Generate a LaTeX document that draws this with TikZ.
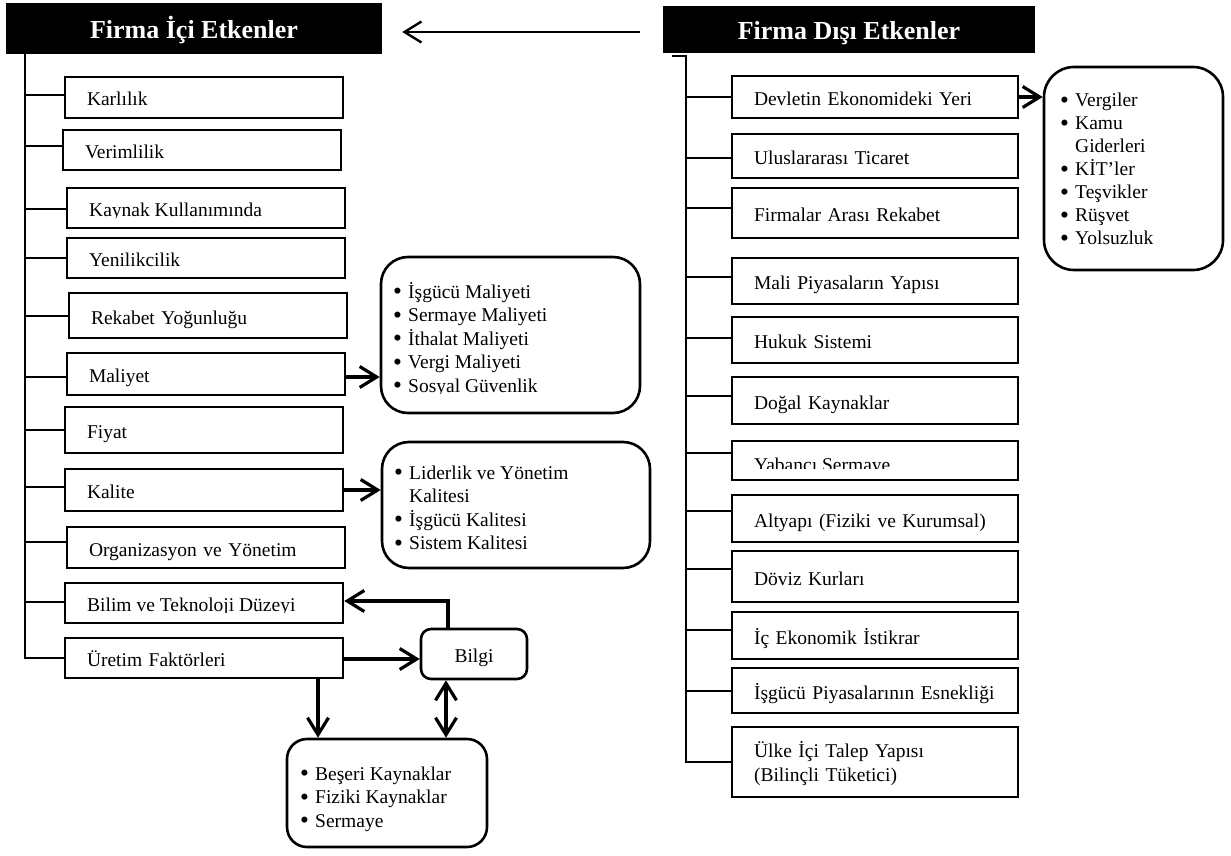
\documentclass[tikz,border=0pt]{standalone}
\usepackage{graphicx}
\usepackage{fontspec}
\setmainfont{Liberation Serif}
\usetikzlibrary{arrows.meta}

% bullet cell of the item lists
\newcommand\bul{\makebox[15pt][l]{\raisebox{-1.6pt}{\scalebox{1.3}{\textbullet}}}}
% connectors from a trunk line to a box, #2 = vertical shift
\newcommand\lconn[2]{\path ([yshift=#2]#1.west) coordinate (cc); \draw[conn] (cc) -- (cc -| ltrunk);}
\newcommand\rconn[2]{\path ([yshift=#2]#1.west) coordinate (cc); \draw[conn] (cc) -- (cc -| rtrunk);}

\begin{document}
\begin{tikzpicture}[x=1pt, y=-1pt,
  every node/.style={font=\fontsize{19.5}{23.5}\selectfont},
  header/.style={fill=black, text=white, inner sep=0pt, text height=21pt, text depth=0pt,
    font=\fontsize{26}{30}\selectfont\bfseries},
  item/.style={draw, line width=2.5pt, fill=white, inner xsep=22pt, inner ysep=0pt,
    align=left, text height=17.5pt, text depth=0.5pt},
  lbox/.style={item, text width=234pt},
  rbox/.style={item, text width=242pt},
  plain/.style={anchor=base west, inner sep=0pt},
  bubble/.style={draw, line width=2.6pt, fill=white, inner sep=0pt},
  list/.style={anchor=base west, inner sep=0pt},
  trunk/.style={line width=2pt},
  conn/.style={line width=2pt},
  arr/.style={line width=3.2pt, -{Straight Barb[length=17pt,width=21pt]}},
  dblarr/.style={line width=3.2pt, {Straight Barb[length=17pt,width=21pt]}-{Straight Barb[length=17pt,width=21pt]}},
  toparr/.style={line width=2.4pt, -{Straight Barb[length=17pt,width=21pt]}},
]
\fill[white] (0,0) rectangle (1231,856);
\useasboundingbox (0,0) rectangle (1231,856);

% headers
\node[header, minimum width=376pt, minimum height=51pt] (h1) at (194,28.5) {Firma İçi Etkenler};
\node[header, minimum width=372pt, minimum height=47pt] (h2) at (849,29.5) {Firma Dışı Etkenler};
\draw[toparr, shorten <=23pt, shorten >=20pt] ([yshift=-2.5pt]h2.west) -- ([yshift=-3.5pt]h1.east);

% left column
\node[lbox, minimum height=41pt] (karl) at (204,97.5) {Karlılık};
\node[lbox, minimum height=40pt] (verim) at (202,150) {Verimlilik};
\node[lbox, minimum height=40pt] (kaynak) at (206,208) {};
\begin{scope}
  \clip (60,190) rectangle (340,217.5);
  \node[plain] at (89,216.5) {Kaynak Kullanımında};
\end{scope}
\node[lbox, minimum height=40pt] (yenilik) at (206,258) {Yenilikcilik};
\node[lbox, minimum height=45pt] (rekabet) at (208,315.5) {Rekabet Yoğunluğu};
\node[lbox, minimum height=42pt] (maliyet) at (206,374) {Maliyet};
\node[lbox, minimum height=46pt] (fiyat) at (204,430) {Fiyat};
\node[lbox, minimum height=42pt] (kalite) at (204,490) {Kalite};
\node[lbox, minimum height=41pt] (org) at (206,547.5) {Organizasyon ve Yönetim};
\node[lbox, minimum height=40pt] (bilim) at (204,603) {};
\begin{scope}
  \clip (60,585) rectangle (340,612.5);
  \node[plain] at (87,611.5) {Bilim ve Teknoloji Düzeyi};
\end{scope}
\node[lbox, minimum height=40pt] (uretim) at (204,658) {Üretim Faktörleri};

\coordinate (ltrunk) at ([xshift=19pt]h1.south west);
\draw[trunk] (ltrunk) |- (uretim.west);
\lconn{karl}{2.5pt}
\lconn{verim}{4pt}
\lconn{kaynak}{-1pt}
\lconn{yenilik}{0pt}
\lconn{rekabet}{-0.5pt}
\lconn{maliyet}{-3pt}
\lconn{fiyat}{0pt}
\lconn{kalite}{3pt}
\lconn{org}{5.5pt}
\lconn{bilim}{1pt}

% cost items
\node[bubble, rounded corners=27pt, minimum width=259pt, minimum height=156pt] (mlist) at (510.5,335) {};
\begin{scope}
  \clip (385,260) rectangle (636,393.5);
  \node[list] at (393,298) {\begin{tabular}[t]{@{}l@{}l@{}}
    \bul & İşgücü Maliyeti\\
    \bul & Sermaye Maliyeti\\
    \bul & İthalat Maliyeti\\
    \bul & Vergi Maliyeti\\
    \bul & Sosyal Güvenlik
  \end{tabular}};
\end{scope}

% quality items
\node[bubble, rounded corners=27pt, minimum width=268pt, minimum height=126pt] (klist) at (516,505) {};
\node[list] at (394,479) {\begin{tabular}[t]{@{}l@{}l@{}}
  \bul & Liderlik ve Yönetim\\
       & Kalitesi\\
  \bul & İşgücü Kalitesi\\
  \bul & Sistem Kalitesi
\end{tabular}};

\coordinate (ma) at ([yshift=-3pt]maliyet.east);
\draw[arr] (ma) -- (ma -| mlist.west);
\draw[arr] (kalite.east) -- (kalite.east -| klist.west);

% knowledge and resources
\node[bubble, rounded corners=10pt, minimum width=106pt, minimum height=50pt,
  text height=17.5pt, text depth=0.5pt] (bilgi) at (474,654) {Bilgi};
\node[bubble, rounded corners=20pt, minimum width=200pt, minimum height=108pt] (flist) at (387,793) {};
\node[list] at (300,780) {\begin{tabular}[t]{@{}l@{}l@{}}
  \bul & Beşeri Kaynaklar\\
  \bul & Fiziki Kaynaklar\\
  \bul & Sermaye
\end{tabular}};

\coordinate (ub) at ([yshift=-1pt]uretim.east);
\draw[arr] (ub) -- (ub -| bilgi.west);
\draw[arr] ([xshift=-26pt]bilgi.north) |- ([yshift=2pt]bilim.east);
\coordinate (ud) at ([xshift=114pt]uretim.south);
\draw[arr] (ud) -- (ud |- flist.north);
\coordinate (bd) at ([xshift=-28pt]bilgi.south);
\draw[dblarr] (bd) -- (bd |- flist.north);

% right column
\node[rbox, minimum height=42pt] (devlet) at (875,97) {Devletin Ekonomideki Yeri};
\node[rbox, minimum height=44pt] (ulus) at (875,156) {Uluslararası Ticaret};
\node[rbox, minimum height=50pt] (firmalar) at (875,213) {Firmalar Arası Rekabet};
\node[rbox, minimum height=46pt] (mali) at (875,281) {Mali Piyasaların Yapısı};
\node[rbox, minimum height=46pt] (hukuk) at (875,340) {Hukuk Sistemi};
\node[rbox, minimum height=47pt] (dogal) at (875,400.5) {Doğal Kaynaklar};
\node[rbox, minimum height=39pt] (yabanci) at (875,460.5) {};
\begin{scope}
  \clip (735,443) rectangle (1015,468.5);
  \node[plain] at (754,471) {Yabancı Sermaye};
\end{scope}
\node[rbox, minimum height=47pt] (altyapi) at (875,518.5) {\mbox{Altyapı (Fiziki ve Kurumsal)}};
\node[rbox, minimum height=51pt] (doviz) at (875,576.5) {Döviz Kurları};
\node[rbox, minimum height=47pt] (icek) at (875,635.5) {İç Ekonomik İstikrar};
\node[rbox, minimum height=45pt] (isgucu) at (875,690.5) {\mbox{İşgücü Piyasalarının Esnekliği}};
\node[rbox, minimum height=70pt, text depth=26pt] (ulke) at (875,762) {Ülke İçi Talep Yapısı\\(Bilinçli Tüketici)};

\coordinate (rtrunk) at ([shift={(23pt,-3pt)}]h2.south west);
\draw[trunk] ([xshift=-14pt]rtrunk) -- (rtrunk) |- (ulke.west);
\rconn{devlet}{0pt}
\rconn{ulus}{-2pt}
\rconn{firmalar}{5pt}
\rconn{mali}{4pt}
\rconn{hukuk}{2pt}
\rconn{dogal}{4.5pt}
\rconn{yabanci}{7.5pt}
\rconn{altyapi}{7.5pt}
\rconn{doviz}{7.5pt}
\rconn{icek}{5.5pt}
\rconn{isgucu}{-0.5pt}

% government items
\node[bubble, rounded corners=30pt, minimum width=179pt, minimum height=203pt] (dlist) at (1133.5,168.5) {};
\node[list, font=\fontsize{19.5}{23}\selectfont] at (1060,107) {\begin{tabular}[t]{@{}l@{}l@{}}
  \bul & Vergiler\\
  \bul & Kamu\\
       & Giderleri\\
  \bul & KİT’ler\\
  \bul & Teşvikler\\
  \bul & Rüşvet\\
  \bul & Yolsuzluk
\end{tabular}};
\draw[arr] (devlet.east) -- (devlet.east -| dlist.west);

\end{tikzpicture}
\end{document}
